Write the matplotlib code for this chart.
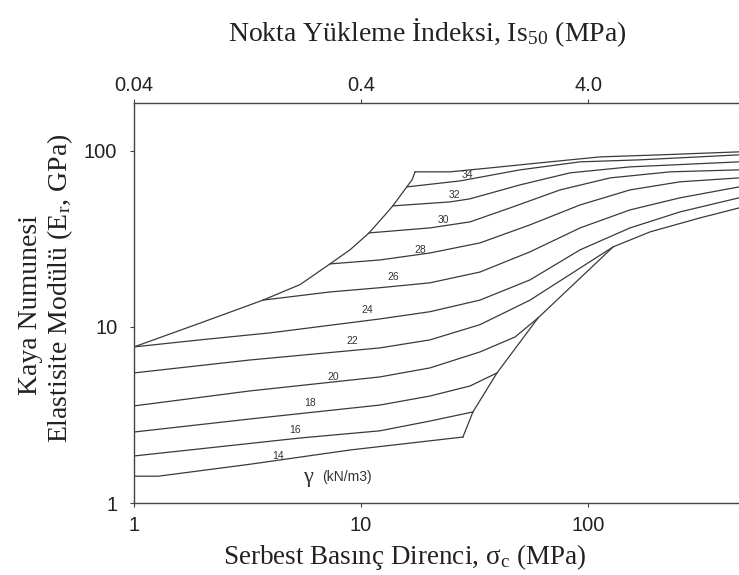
import matplotlib
matplotlib.use("Agg")
import matplotlib.pyplot as plt
from matplotlib.ticker import NullLocator, FixedLocator

plt.rcParams["mathtext.fontset"] = "stix"

# curves of unit weight (gamma), x = UCS (MPa), y = E (GPa)
c14_x = [1, 1.28, 3.24, 8.94, 28.1]
c14_y = [1.42, 1.42, 1.66, 2.0, 2.37]
c16_x = [1, 1.95, 5.39, 12.1, 20.1, 31.1]
c16_y = [1.85, 2.03, 2.34, 2.57, 2.92, 3.29]
c18_x = [1, 3.24, 12.1, 20.1, 30.2, 39.7]
c18_y = [2.53, 3.0, 3.6, 4.05, 4.62, 5.48]
c20_x = [1, 3.24, 12.1, 20.1, 33.4, 47.7, 60.2]
c20_y = [3.56, 4.33, 5.2, 5.85, 7.21, 8.77, 11.25]
c22_x = [1, 3.24, 12.1, 20.1, 33.4, 55.5, 92.2, 129, 188, 311, 462]
c22_y = [5.48, 6.49, 7.6, 8.44, 10.3, 14.2, 21.6, 28.5, 34.7, 41.6, 47.4]
c24_x = [1, 1.95, 3.97, 12.1, 20.1, 33.4, 55.5, 92.2, 153, 254, 462]
c24_y = [7.7, 8.44, 9.25, 11.1, 12.2, 14.2, 18.5, 27.4, 36.5, 45.0, 54.1]
c26_x = [3.7, 7.3, 12.1, 20.1, 33.4, 55.5, 92.2, 153, 254, 462]
c26_y = [14.2, 15.8, 16.7, 17.8, 20.5, 26.7, 36.5, 46.2, 54.1, 62.4]
c28_x = [7.3, 12.1, 20.1, 33.4, 55.5, 92.2, 153, 254, 462]
c28_y = [22.8, 24.0, 26.3, 30.0, 38.0, 49.3, 60.0, 66.7, 70.2]
c30_x = [10.85, 20.1, 30.2, 45.3, 75.3, 125, 230, 462]
c30_y = [34.2, 36.5, 39.5, 47.4, 60.0, 70.2, 76.0, 78.0]
c32_x = [13.8, 24.7, 30.2, 50.2, 83.3, 153, 462]
c32_y = [48.7, 51.3, 53.4, 64.1, 75.0, 81.1, 86.6]
c34_x = [15.9, 27.3, 50.2, 92.2, 169, 462]
c34_y = [62.4, 67.5, 78.0, 86.6, 88.9, 94.9]
ctop_x = [17.3, 24.7, 37, 61.4, 113, 208, 462]
ctop_y = [76, 76, 80, 85.5, 92.4, 94.9, 98.7]

# boundaries
left_env_x = [1, 1.95, 3.7, 5.39, 7.3, 8.94, 10.85, 12.76, 13.8, 15.9, 16.77, 17.3]
left_env_y = [7.7, 10.5, 14.2, 17.4, 22.8, 27.4, 34.2, 43.3, 48.7, 62.4, 68.4, 76]
right_env_x = [28.1, 31.1, 39.7, 60.2, 129]
right_env_y = [2.37, 3.29, 5.48, 11.25, 28.5]

curve_labels = ["14", "16", "18", "20", "22", "24", "26", "28", "30", "32", "34"]
label_x = [4.31, 5.12, 5.96, 7.53, 9.13, 10.7, 13.8, 18.2, 23.0, 25.9, 29.3]
label_y = [1.85, 2.60, 3.70, 5.2, 8.33, 12.5, 19.2, 27.4, 40.5, 56.2, 73.1]

x_ticks = [1, 10, 100]
y_ticks = [1, 10, 100]
is50_ticks = [0.04, 0.4, 4.0]
is50_labels = ["0.04", "0.4", "4.0"]

curves = [(c14_x, c14_y), (c16_x, c16_y), (c18_x, c18_y), (c20_x, c20_y),
          (c22_x, c22_y), (c24_x, c24_y), (c26_x, c26_y), (c28_x, c28_y),
          (c30_x, c30_y), (c32_x, c32_y), (c34_x, c34_y), (ctop_x, ctop_y),
          (left_env_x, left_env_y), (right_env_x, right_env_y)]

fig = plt.figure(figsize=(7.39, 5.75), dpi=100)
ax = fig.add_axes([0.1813, 0.1252, 0.8187, 0.6957])

lc = "#3a3a3a"
for cx, cy in curves:
    ax.plot(cx, cy, color=lc, lw=0.9)

for t, tx, ty in zip(curve_labels, label_x, label_y):
    ax.text(tx, ty, t, fontsize=7.5, family="Liberation Sans", color="#333333",
            ha="center", va="center")

ax.text(5.84, 1.40, "γ", fontsize=16, family="Liberation Serif", color="#333333",
        ha="center", va="center")
ax.text(6.73, 1.40, "(kN/m3)", fontsize=10, family="Liberation Sans", color="#333333",
        ha="left", va="center")

ax.set_xscale("log")
ax.set_yscale("log")
ax.set_xlim(1, 462)
ax.set_ylim(1, 187)
ax.xaxis.set_major_locator(FixedLocator(x_ticks))
ax.yaxis.set_major_locator(FixedLocator(y_ticks))
ax.xaxis.set_minor_locator(NullLocator())
ax.yaxis.set_minor_locator(NullLocator())
ax.set_xticklabels([str(v) for v in x_ticks], family="Liberation Sans", fontsize=14.5, color="#222222")
ax.set_yticklabels([str(v) for v in y_ticks], family="Liberation Sans", fontsize=14.5, color="#222222")
ax.tick_params(axis="x", length=3, width=0.8, color="#444444", pad=6)
ax.tick_params(axis="y", length=3, width=0.8, color="#444444", pad=9)
ax.spines["right"].set_visible(False)
for s in ["left", "bottom", "top"]:
    ax.spines[s].set_color("#444444")
    ax.spines[s].set_linewidth(1.0)

sec = ax.secondary_xaxis("top", functions=(lambda v: v / 25.0, lambda v: v * 25.0))
sec.xaxis.set_major_locator(FixedLocator(is50_ticks))
sec.xaxis.set_minor_locator(NullLocator())
sec.set_xticklabels(is50_labels, family="Liberation Sans", fontsize=14.5, color="#222222")
sec.tick_params(length=3, width=0.8, color="#444444", pad=3)
sec.spines["top"].set_visible(False)

fig.text(0.5481, 0.031, "Serbest Basınç Direnci, σ$_\\mathregular{c}$ (MPa)",
         family="Liberation Serif", fontsize=19.5, color="#222222", ha="center", va="center")
fig.text(0.5778, 0.9426, "Nokta Yükleme İndeksi, Is$_\\mathregular{50}$ (MPa)",
         family="Liberation Serif", fontsize=20, color="#222222", ha="center", va="center")
fig.text(0.041, 0.4696, "Kaya Numunesi", rotation=90,
         family="Liberation Serif", fontsize=20, color="#222222", ha="center", va="center")
fig.text(0.081, 0.4991, "Elastisite Modülü (E$_\\mathregular{r}$, GPa)", rotation=90,
         family="Liberation Serif", fontsize=20, color="#222222", ha="center", va="center")

fig.savefig("out.png", dpi=100)
